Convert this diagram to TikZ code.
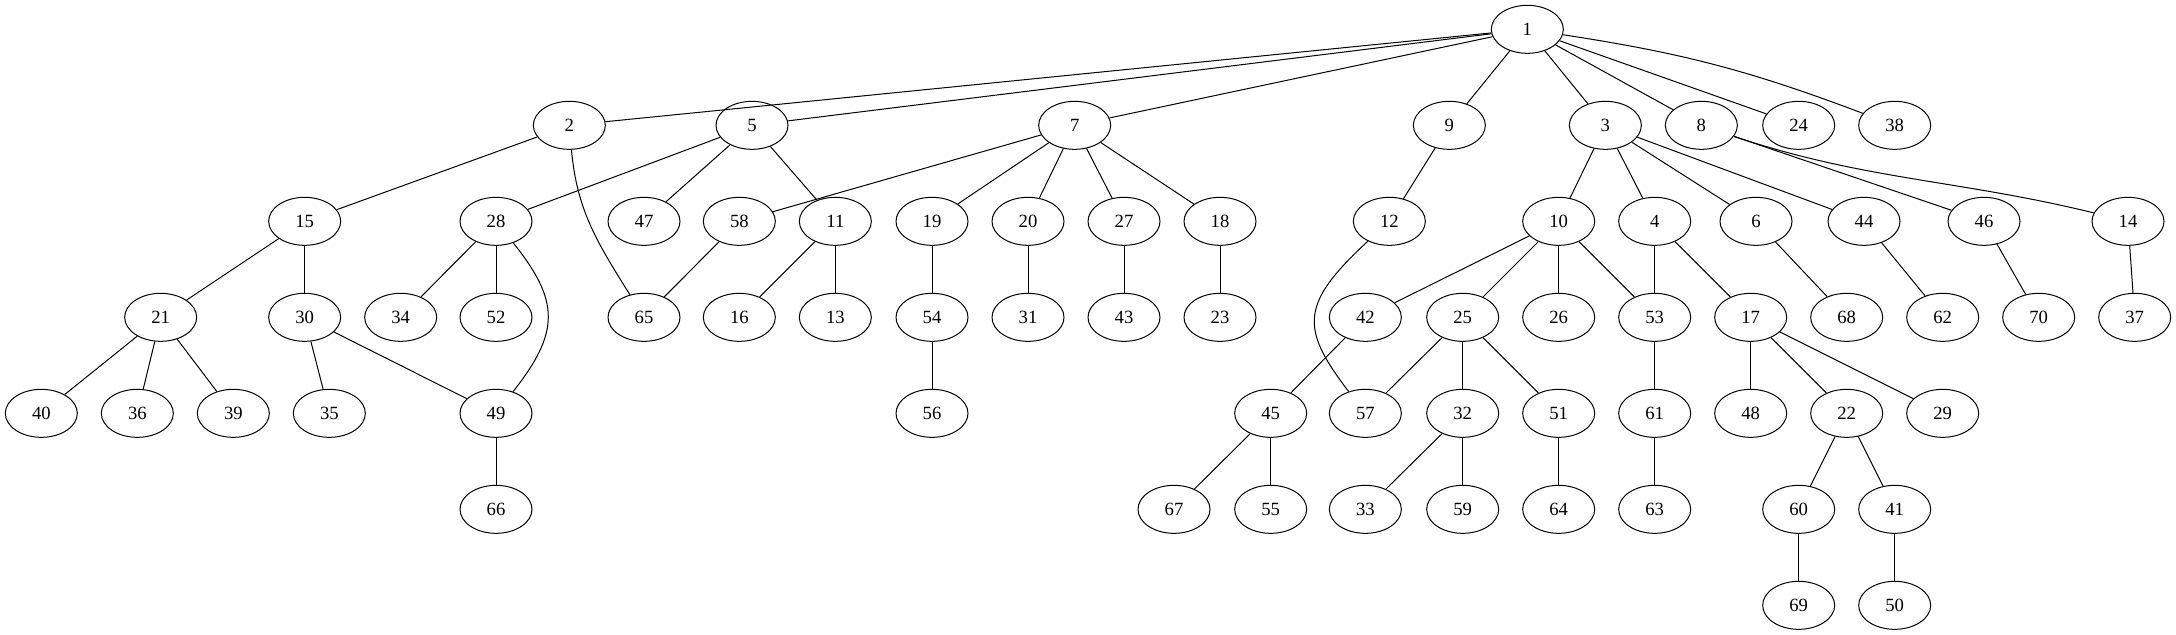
\documentclass[tikz,border=0pt]{standalone}
\usepackage{fontspec}
\setmainfont{Liberation Serif}
\usetikzlibrary{shapes.geometric}
\tikzset{
  vertex/.style={draw, ellipse, line width=0.75pt, minimum width=54pt, minimum height=36pt,
    inner sep=0pt, font=\fontsize{14}{16}\selectfont},
  link/.style={line width=0.75pt}
}
\begin{document}
\begin{tikzpicture}[x=1pt,y=1pt]
  \useasboundingbox (0,0) rectangle (1632,476);
  % ranks
  \foreach \name/\xx in {1/1145.5}
    \node[vertex] (n\name) at (\xx,454) {\name};
  \foreach \name/\xx in {2/427,5/564,7/806,9/1087,3/1204,8/1276,24/1349,38/1421}
    \node[vertex] (n\name) at (\xx,382) {\name};
  \foreach \name/\xx in {15/228.5,28/372,47/483,58/554.5,11/626.5,19/699,20/771,27/843,18/915,
      12/1042,10/1169,4/1241,6/1317,44/1398,46/1488,14/1596}
    \node[vertex] (n\name) at (\xx,310) {\name};
  \foreach \name/\xx in {21/120.5,30/228.5,34/300.5,52/372,65/483,16/554.5,13/626.5,54/699,31/771,
      43/843,23/915,42/1024,25/1097,26/1169,53/1241,17/1313,68/1385,62/1457,70/1529,37/1601}
    \node[vertex] (n\name) at (\xx,238) {\name};
  \foreach \name/\xx in {40/31,36/103,39/175,35/247,49/372,56/699,45/953,57/1024,32/1097,
      51/1169,61/1241,48/1313,22/1385,29/1457}
    \node[vertex] (n\name) at (\xx,166) {\name};
  \foreach \name/\xx in {66/372,67/880.5,55/953,33/1024,59/1097,64/1169,63/1241,60/1349,41/1421}
    \node[vertex] (n\name) at (\xx,94) {\name};
  \foreach \name/\xx in {69/1349,50/1421}
    \node[vertex] (n\name) at (\xx,22) {\name};
  % edges
  \foreach \a/\b in {1/2,1/5,1/7,1/9,1/3,1/8,1/24,2/15,5/28,5/47,5/11,7/58,7/19,7/20,7/27,7/18,
      9/12,3/10,3/4,3/6,3/44,8/46,15/21,15/30,28/34,28/52,58/65,11/16,11/13,19/54,20/31,
      27/43,18/23,10/42,10/25,10/26,10/53,4/53,4/17,6/68,44/62,46/70,14/37,21/40,21/36,
      21/39,30/35,30/49,54/56,42/45,25/57,25/32,25/51,53/61,17/48,17/22,17/29,49/66,
      45/67,45/55,32/33,32/59,51/64,61/63,22/60,22/41,60/69,41/50}
    \draw[link] (n\a) -- (n\b);
  \draw[link] (n1) to[bend left=6] (n38);
  \draw[link] (n2) to[out=-85,in=122] (n65);
  \draw[link] (n28) .. controls (420,250) and (420,227) .. (n49);
  \draw[link] (n12) .. controls (975,248) and (975,230) .. (n57);
  \draw[link] (n8) .. controls (1397.5,341) and (1470,341) .. (n14);
\end{tikzpicture}
\end{document}
